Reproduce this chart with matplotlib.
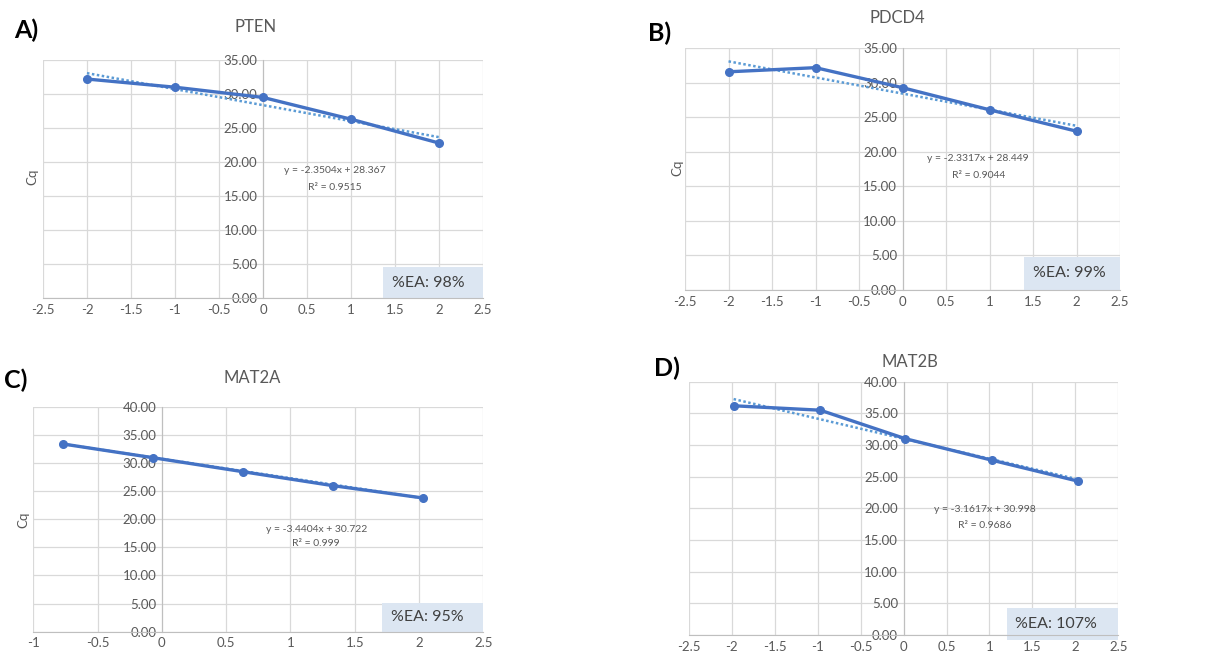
import matplotlib
matplotlib.use('Agg')
import numpy as np
import matplotlib.pyplot as plt
from matplotlib.patches import Rectangle

plt.rcParams['font.family'] = ['Lato', 'DejaVu Sans']

# panel data: log dilution vs Cq
x_pten = [-2, -1, 0, 1, 2]
cq_pten = [32.2, 31.0, 29.5, 26.3, 22.8]
x_pdcd4 = [-2, -1, 0, 1, 2]
cq_pdcd4 = [31.6, 32.2, 29.3, 26.1, 23.0]
x_mat2a = [-0.77, -0.07, 0.63, 1.33, 2.03]
cq_mat2a = [33.37, 30.93, 28.44, 25.96, 23.77]
x_mat2b = [-1.98, -0.97, 0.02, 1.03, 2.03]
cq_mat2b = [36.2, 35.5, 31.0, 27.6, 24.3]

# trendline coefficients as printed
slopes = [-2.3504, -2.3317, -3.4404, -3.1617]
intercepts = [28.367, 28.449, 30.722, 30.998]
r2_labels = ['0.9515', '0.9044', '0.999', '0.9686']
ea_labels = ['%EA: 98%', '%EA: 99%', '%EA: 95%', '%EA: 107%']
genes = ['PTEN', 'PDCD4', 'MAT2A', 'MAT2B']
letters = ['A)', 'B)', 'C)', 'D)']

LINE = '#4472C4'
TREND = '#5B9BD5'
GRID = '#d9d9d9'
TXT = '#595959'
BOX = '#dce6f2'

fig = plt.figure(figsize=(12.17, 6.62), dpi=100)


def panel(rect, x, y, k, xlim, ylim, eq_pos, box, cq_pos, title_xy, letter_xy):
    ax = fig.add_axes(rect)
    slope, icpt = slopes[k], intercepts[k]
    ax.set_xlim(*xlim)
    ax.set_ylim(*ylim)
    ax.set_xticks(np.arange(xlim[0], xlim[1] + 0.01, 0.5))
    ax.set_yticks(np.arange(ylim[0], ylim[1] + 0.01, 5))
    ax.xaxis.set_major_formatter(lambda v, p: '%g' % v)
    ax.yaxis.set_major_formatter(lambda v, p: '%.2f' % v)
    ax.grid(True, color=GRID, lw=0.9, zorder=0)
    ax.set_axisbelow(True)
    for s in ['top', 'right']:
        ax.spines[s].set_visible(False)
    ax.spines['left'].set_position(('data', 0))
    ax.spines['left'].set_color('#bfbfbf')
    ax.spines['bottom'].set_color('#bfbfbf')
    ax.tick_params(length=0, labelsize=9.5, labelcolor=TXT, pad=4)

    bx, by, bw, bh = box
    ax.add_patch(Rectangle((bx, by), 1 - bx, bh, transform=ax.transAxes,
                           facecolor=BOX, edgecolor='none', clip_on=False, zorder=2))
    ax.text(box[0] + 0.02, by + bh / 2, ea_labels[k], transform=ax.transAxes,
            fontsize=11.5, color='#404040', va='center', ha='left', zorder=3)

    xt = np.array([min(x), max(x)])
    ax.plot(xt, slope * xt + icpt, color=TREND, lw=1.8, ls=(0, (1, 1)), zorder=4)
    ax.plot(x, y, color=LINE, lw=2.4, marker='o', ms=5.5, zorder=5, clip_on=False)

    ax.text(eq_pos[0], eq_pos[1], 'y = %.4fx + %.3f' % (slope, icpt),
            fontsize=7.5, color=TXT, ha='center', va='center', zorder=3)
    ax.text(eq_pos[0], eq_pos[1] - 2.5, 'R² = ' + r2_labels[k],
            fontsize=7.5, color=TXT, ha='center', va='center', zorder=3)
    if cq_pos is not None:
        ax.text(cq_pos[0], cq_pos[1], 'Cq', transform=ax.transAxes, rotation=90,
                fontsize=9.5, color=TXT, ha='center', va='center')
    fig.text(title_xy[0] / 1217, 1 - title_xy[1] / 662, genes[k], fontsize=12,
             color=TXT, ha='center', va='center')
    fig.text(letter_xy[0] / 1217, 1 - letter_xy[1] / 662, letters[k], fontsize=18,
             fontweight='bold', color='black', ha='left', va='center')
    return ax


panel([0.0353, 0.5494, 0.3616, 0.36], x_pten, cq_pten, 0, (-2.5, 2.5), (0, 35),
      (0.82, 18.8), (0.773, 0, 0, 0.13), (-0.023, 0.51), (256, 27), (14, 30))
panel([0.5629, 0.5619, 0.3574, 0.3651], x_pdcd4, cq_pdcd4, 1, (-2.5, 2.5), (0, 35),
      (0.87, 19.1), (0.78, 0, 0, 0.138), (-0.018, 0.505), (897, 18), (648, 33))
panel([0.0274, 0.0458, 0.3697, 0.3399], x_mat2a, cq_mat2a, 2, (-1, 2.5), (0, 40),
      (1.2, 18.2), (0.776, 0, 0, 0.128), (-0.023, 0.496), (252, 378), (4, 380))
panel([0.5661, 0.0408, 0.3528, 0.3826], x_mat2b, cq_mat2b, 3, (-2.5, 2.5), (0, 40),
      (0.95, 19.8), (0.74, -0.02, 0, 0.125), None, (910, 362), (654, 368))

fig.savefig('out.png', dpi=100)
